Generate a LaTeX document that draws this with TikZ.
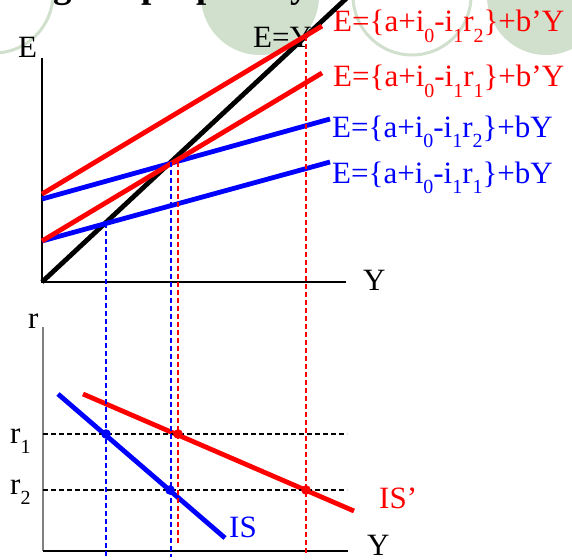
\documentclass[tikz,border=0pt]{standalone}
\usepackage{fontspec}
\setmainfont{Liberation Serif}
\definecolor{circ}{RGB}{208,224,204}
\newcommand{\lsub}[1]{\raisebox{-0.33em}{\fontsize{20}{20}\selectfont #1}}
\begin{document}
\begin{tikzpicture}[x=1pt,y=-1pt,
  lbl/.style={font=\fontsize{31}{36}\selectfont, inner sep=0pt, anchor=base west},
  ttl/.style={font=\bfseries\fontsize{37}{40}\selectfont, inner sep=0pt, anchor=base west},
  curve/.style={line width=4.8pt},
  axis/.style={line width=1.5pt},
  vdash/.style={line width=1.2pt, dash pattern=on 5pt off 3pt}]
\useasboundingbox (0,0) rectangle (572,559);
\clip (0,0) rectangle (572,559);
% background circles
\draw[circ, line width=3pt] (-6,-6) circle (59pt);
\fill[circ] (260,-4) circle (59pt);
\draw[circ, line width=3pt] (412,-4) circle (59pt);
\fill[circ] (546,-4) circle (59pt);
% title (cropped)
\node[ttl] (title) at (141,-2) {\llap{marginal }propensity to consume};
% labels
\node[lbl] (Elab) at (18,58) {E};
\node[lbl] (Ylab1) at (363,290) {Y};
\node[lbl] (EYlab) at (253,48) {E=Y};
\node[lbl, red] (eq1) at (333,32) {E=\{a+i\lsub{0}-i\lsub{1}r\lsub{2}\}+b’Y};
\node[lbl, red] (eq2) at (333,87) {E=\{a+i\lsub{0}-i\lsub{1}r\lsub{1}\}+b’Y};
\node[lbl, blue] (eq3) at (332,137) {E=\{a+i\lsub{0}-i\lsub{1}r\lsub{2}\}+bY};
\node[lbl, blue] (eq4) at (332,183) {E=\{a+i\lsub{0}-i\lsub{1}r\lsub{1}\}+bY};
\node[lbl] (rlab) at (28,328) {r};
\node[lbl] (r1lab) at (10,443) {r\lsub{1}};
\node[lbl] (r2lab) at (10,494) {r\lsub{2}};
\node[lbl] (Ylab2) at (367,555) {Y};
\node[lbl, blue] (ISlab) at (229,537) {IS};
\node[lbl, red] (ISplab) at (379,508) {IS’};
% coordinates upper chart
\coordinate (O1) at (42,282);
\coordinate (Etop) at (42,58);
\coordinate (Xend1) at (346,282);
\coordinate (EYend) at (350,-5);
\coordinate (b1s) at (42,241); \coordinate (b1e) at (330,162);
\coordinate (b2s) at (42,199); \coordinate (b2e) at (330,119);
\coordinate (r2s) at (42,194); \coordinate (r2e) at (322,26);
\coordinate (r1s) at (42,241); \coordinate (r1e) at (322,73);
% lower chart
\coordinate (O2) at (43,551);
\coordinate (rtop) at (43,327);
\coordinate (Xend2) at (348,551);
\coordinate (h1s) at (43,434); \coordinate (h1e) at (347,434);
\coordinate (h2s) at (43,490); \coordinate (h2e) at (347,490);
\coordinate (ISs) at (58,394); \coordinate (ISe) at (225,538);
\coordinate (IPs) at (83,394); \coordinate (IPe) at (354,511);
% vertical dashed ends
\coordinate (v1t) at (106,223); \coordinate (v1b) at (106,557);
\coordinate (v2t) at (171,162); \coordinate (v2b) at (171,557);
\coordinate (v3t) at (178,162); \coordinate (v3b) at (178,545);
\coordinate (v4t) at (306,36);  \coordinate (v4b) at (306,553);
% dot centres
\coordinate (d1) at (106,434);
\coordinate (d2) at (170,490);
\coordinate (d3) at (178,434);
\coordinate (d4) at (306,490);
% axes
\draw[axis] (Etop) -- (O1) -- (Xend1);
\draw[line width=2pt, black!50] (rtop) -- (O2);
\draw[axis] (O2) -- (Xend2);
% curves
\draw[curve, black] (O1) -- (EYend);
\draw[curve, blue] (b1s) -- (b1e);
\draw[curve, blue] (b2s) -- (b2e);
\draw[curve, red] (r1s) -- (r1e);
\draw[curve, red] (r2s) -- (r2e);
\draw[curve, blue] (ISs) -- (ISe);
\draw[curve, red] (IPs) -- (IPe);
% dashed
\draw[vdash, black] (h1s) -- (h1e);
\draw[vdash, black] (h2s) -- (h2e);
\draw[vdash, blue] (v1t) -- (v1b);
\draw[vdash, blue] (v2t) -- (v2b);
\draw[vdash, red] (v3t) -- (v3b);
\draw[vdash, red] (v4t) -- (v4b);
% dots
\fill[blue] (d1) circle (4.8pt);
\fill[blue] (d2) circle (4.8pt);
\fill[red] (d3) circle (4.8pt);
\fill[red] (d4) circle (4.8pt);
\end{tikzpicture}
\end{document}
